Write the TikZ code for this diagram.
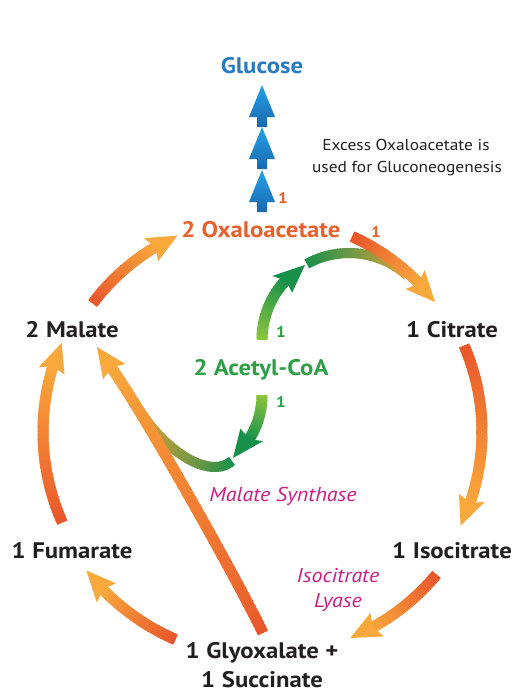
\documentclass[tikz,border=0pt]{standalone}
\usepackage{fontspec}
\setmainfont{PT Sans}[FakeStretch=1.1]
\definecolor{oxo}{HTML}{E8602C}
\definecolor{glu}{HTML}{2A7BBF}
\definecolor{acg}{HTML}{2E9E47}
\definecolor{mag}{HTML}{CC1E82}
\definecolor{ink}{HTML}{231F20}
\definecolor{ored}{HTML}{E9552B}
\definecolor{olite}{HTML}{F9A93C}
\definecolor{gdark}{HTML}{17904A}
\definecolor{glite}{HTML}{8DC63F}
\definecolor{gyel}{HTML}{E4A23C}
\definecolor{blite}{HTML}{23A2E8}
\definecolor{bdark}{HTML}{1B68AE}
\def\hl{30}\def\hw{13.5}\def\sw{11}\def\hin{5}
% gradient along a circular arc (shaft only)
\newcommand\arcgrad[8]{%
 \begin{scope}[shift={(#1,#2)}]
 \foreach \k in {1,...,40}{%
   \pgfmathsetmacro\ta{#4+(#5-#4)*(\k-1)/40}%
   \pgfmathsetmacro\tb{#4+(#5-#4)*min(\k+0.6,40)/40}%
   \pgfmathsetmacro\pc{100-100*(\k-0.5)/40}%
   \draw[line width=#8,draw=#6!\pc!#7] (\ta:#3) -- (\tb:#3);
 }
 \end{scope}}
% arc arrow: centre, radius, start angle, tip angle, tail colour, head colour
\newcommand\arcarrow[7]{%
 \pgfmathsetmacro\dsg{sign(#5-#4)}%
 \pgfmathsetmacro\ab{#5-\dsg*\hl/#3*180/pi}%
 \pgfmathsetmacro\abn{\ab+\dsg*\hin/#3*180/pi}%
 \pgfmathsetmacro\abx{\abn+\dsg*0.6}%
 \arcgrad{#1}{#2}{#3}{#4}{\abx}{#6}{#7}{\sw}%
 \begin{scope}[shift={(#1,#2)}]
   \fill[#7] (#5:#3) -- (\ab:#3+\hw) -- (\abn:#3) -- (\ab:#3-\hw) -- cycle;
 \end{scope}}
% gradient along a cubic Bezier
\def\bezset#1#2#3#4#5#6#7#8{\def\bxa{#1}\def\bya{#2}\def\bxb{#3}\def\byb{#4}\def\bxc{#5}\def\byc{#6}\def\bxd{#7}\def\byd{#8}}
\newcommand\bezgrad[3]{%
 \foreach \k in {0,...,39}{%
   \pgfmathsetmacro\ta{\k/40}%
   \pgfmathsetmacro\tb{min(\k+1.6,40)/40}%
   \pgfmathsetmacro\pc{100-100*(\k+0.5)/40}%
   \pgfmathsetmacro\xa{(1-\ta)^3*\bxa+3*(1-\ta)^2*\ta*\bxb+3*(1-\ta)*\ta^2*\bxc+\ta^3*\bxd}%
   \pgfmathsetmacro\ya{(1-\ta)^3*\bya+3*(1-\ta)^2*\ta*\byb+3*(1-\ta)*\ta^2*\byc+\ta^3*\byd}%
   \pgfmathsetmacro\xb{(1-\tb)^3*\bxa+3*(1-\tb)^2*\tb*\bxb+3*(1-\tb)*\tb^2*\bxc+\tb^3*\bxd}%
   \pgfmathsetmacro\yb{(1-\tb)^3*\bya+3*(1-\tb)^2*\tb*\byb+3*(1-\tb)*\tb^2*\byc+\tb^3*\byd}%
   \draw[line width=#3,draw=#1!\pc!#2] (\xa,\ya) -- (\xb,\yb);
 }}
\newcommand\bluearrow[1]{%
 \shade[top color=blite,bottom color=bdark] (262,#1) -- (275,#1+32) -- (267,#1+32) -- (267,#1+42)
   -- (257,#1+42) -- (257,#1+32) -- (249,#1+32) -- cycle;}
\tikzset{
 lbl/.style={font=\bfseries\fontsize{22.5}{26}\selectfont, text=ink, inner sep=0pt, anchor=base},
 enz/.style={font=\itshape\fontsize{20}{23}\selectfont, text=mag, inner sep=0pt, anchor=base},
 note/.style={font=\fontsize{15.8}{18}\selectfont, text=ink, inner sep=0pt, anchor=base},
 num/.style={font=\bfseries\fontsize{15.5}{18}\selectfont, inner sep=0pt, anchor=center}
}
\begin{document}
\begin{tikzpicture}[x=1pt,y=-1pt]
\useasboundingbox (0,0) rectangle (524,699);
\fill[white] (0,0) rectangle (524,699);
% blue arrows to glucose
\bluearrow{170}
\bluearrow{127}
\bluearrow{85}
% green band into citrate arrow
\arcgrad{349}{340}{87}{241}{312}{gdark}{gyel}{10}
% green band 2 into the long line
\bezset{232}{461}{210}{480}{165}{452}{138}{408}
\bezgrad{gdark}{gyel}{10}
% big cycle
\arcarrow{265}{432}{215}{-143.3}{-114}{ored}{olite}
\arcarrow{265}{432}{214}{-66}{-37.4}{ored}{olite}
\arcarrow{265}{432}{217}{-23.5}{25.6}{ored}{olite}
\arcarrow{265}{432}{223}{39.7}{67.5}{ored}{olite}
\arcarrow{265}{432}{226}{113.3}{142.2}{ored}{olite}
\arcarrow{265}{432}{222}{155.9}{203.7}{ored}{olite}
% long line glyoxalate -> malate
\bezset{263}{633}{240}{585}{150}{423}{111.3}{367.5}
\bezgrad{ored}{olite}{11}
\fill[olite] (97,347) -- (125.3,363.9) -- (111.3,367.5) -- (103.1,379.3) -- cycle;
% green arrows from acetyl-CoA
\def\hw{13}
\arcarrow{349}{340}{87}{180}{239.6}{glite}{gdark}
\arcarrow{179}{395}{83}{0}{49.4}{glite}{gdark}
% labels
\node[lbl,text=glu] (glucose) at (262,73) {Glucose};
\node[lbl,text=oxo] (oxa) at (261,237) {2 Oxaloacetate};
\node[lbl] (mal) at (72,337) {2\hspace{.3em}Malate};
\node[lbl] (cit) at (452,337) {1\hspace{.3em}Citrate};
\node[lbl,text=acg] (acc) at (261,375) {2 Acetyl-CoA};
\node[lbl] (fum) at (72,558) {1\hspace{.3em}Fumarate};
\node[lbl] (iso) at (452,558) {1\hspace{.3em}Isocitrate};
\node[lbl] (gly) at (262,658) {1\hspace{.3em}Glyoxalate +};
\node[lbl] (suc) at (262,687) {1\hspace{.3em}Succinate};
\node[enz] (ms) at (283,501) {Malate Synthase};
\node[enz] (il1) at (338,582) {Isocitrate};
\node[enz] (il2) at (338,607) {Lyase};
\node[note] (ex1) at (406,150) {Excess Oxaloacetate is};
\node[note] (ex2) at (407,172) {used for Gluconeogenesis};
\node[num,text=oxo] (n1) at (283,198) {1};
\node[num,text=oxo] (n2) at (376,232) {1};
\node[num,text=acg] (n3) at (281,332) {1};
\node[num,text=acg] (n4) at (281,402) {1};
\end{tikzpicture}
\end{document}
